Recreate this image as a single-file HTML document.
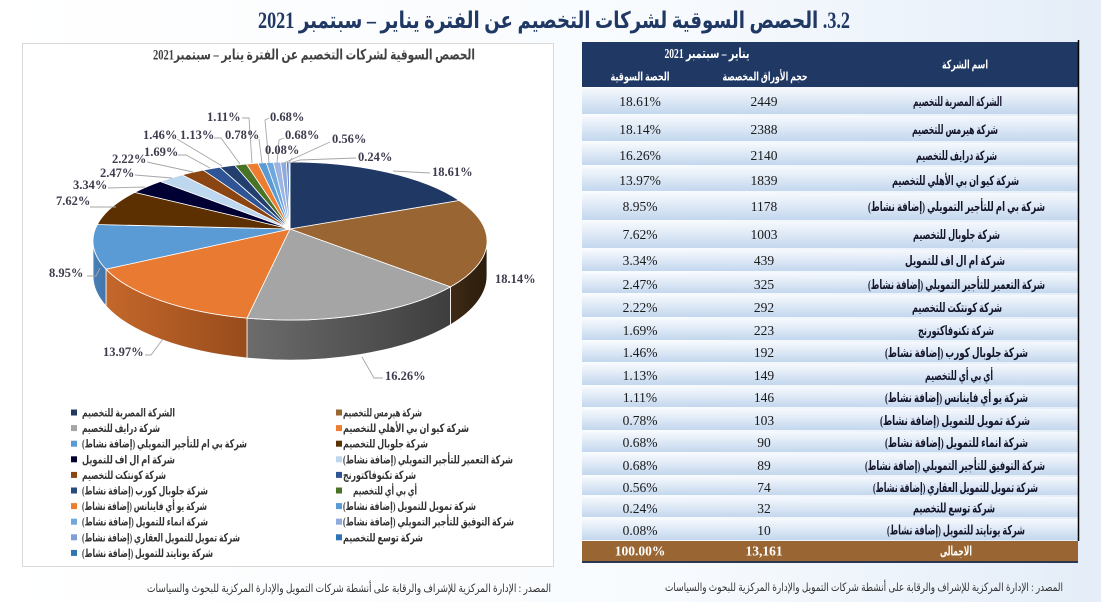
<!DOCTYPE html>
<html><head><meta charset="utf-8"><style>
html,body{margin:0;padding:0;}
body{width:1101px;height:602px;overflow:hidden;}
svg{display:block;}
.ar{font-family:"Liberation Serif","DejaVu Sans",serif;font-weight:bold;}
.lbl{font-family:"Liberation Serif",serif;font-weight:bold;font-size:12.5px;fill:#3c3c4e;}
.num{font-family:"Liberation Serif",serif;font-size:13.5px;fill:#1a1a1a;}
</style></head><body>
<svg width="1101" height="602" viewBox="0 0 1101 602" xmlns="http://www.w3.org/2000/svg">
<defs>
<linearGradient id="bg" x1="0" y1="0" x2="1" y2="0">
<stop offset="0" stop-color="#ffffff"/><stop offset="0.6" stop-color="#f8fbfe"/><stop offset="1" stop-color="#e4edf8"/>
</linearGradient>
<linearGradient id="rowg" x1="0" y1="0" x2="0" y2="1">
<stop offset="0" stop-color="#f6f9fd"/><stop offset="1" stop-color="#c3d7ee"/>
</linearGradient>
<linearGradient id="sBrown" gradientUnits="userSpaceOnUse" x1="450" y1="0" x2="487" y2="0">
<stop offset="0" stop-color="#3e2a16"/><stop offset="1" stop-color="#2c1c0c"/>
</linearGradient>
<linearGradient id="sGray" gradientUnits="userSpaceOnUse" x1="247" y1="0" x2="450" y2="0">
<stop offset="0" stop-color="#6c6c6c"/><stop offset="1" stop-color="#3e3e3e"/>
</linearGradient>
<linearGradient id="sOrange" gradientUnits="userSpaceOnUse" x1="106" y1="0" x2="247" y2="0">
<stop offset="0" stop-color="#c4672b"/><stop offset="1" stop-color="#984c1c"/>
</linearGradient>
<linearGradient id="sBlue" gradientUnits="userSpaceOnUse" x1="93" y1="0" x2="106" y2="0">
<stop offset="0" stop-color="#4a80b8"/><stop offset="1" stop-color="#4275aa"/>
</linearGradient>
</defs>

<rect x="0" y="0" width="1101" height="602" fill="url(#bg)"/>

<!-- Main title -->
<text class="ar" x="554" y="28" font-size="23" fill="#1f3864" text-anchor="middle" direction="rtl" textLength="592" lengthAdjust="spacingAndGlyphs">3.2. الحصص السوقية لشركات التخصيم عن الفترة يناير – سبتمبر 2021</text>

<!-- Chart box -->
<rect x="22.5" y="43.5" width="531" height="523" fill="#ffffff" stroke="#d9d9d9" stroke-width="1"/>
<text class="ar" x="314" y="59.5" font-size="14.5" fill="#404040" text-anchor="middle" direction="rtl" textLength="322" lengthAdjust="spacingAndGlyphs">الحصص السوقية لشركات التخصيم عن الفترة يناير – سبتمبر2021</text>

<!-- Pie side walls -->
<g stroke="#ffffff" stroke-width="0.8">
<path d="M487 241 A197 79 0 0 1 450.4 286.9 L450.4 324.8 A197 84 0 0 0 487 276 Z" fill="url(#sBrown)"/>
<path d="M450.4 286.9 A197 79 0 0 1 247 318.1 L247 358 A197 84 0 0 0 450.4 324.8 Z" fill="url(#sGray)"/>
<path d="M247 318.1 A197 79 0 0 1 106 269.2 L106 306 A197 84 0 0 0 247 358 Z" fill="url(#sOrange)"/>
<path d="M106 269.2 A197 79 0 0 1 93 241 L93 276 A197 84 0 0 0 106 306 Z" fill="url(#sBlue)"/>
</g>

<!-- Pie top faces -->
<g stroke="#ffffff" stroke-width="0.8" stroke-linejoin="round">
<path d="M290 229 L290 162 A197 79 0 0 1 459.2 200.5 Z" fill="#1f3864"/>
<path d="M290 229 L459.2 200.5 A197 79 0 0 1 450.4 286.9 Z" fill="#996633"/>
<path d="M290 229 L450.4 286.9 A197 79 0 0 1 247 318.1 Z" fill="#a5a5a5"/>
<path d="M290 229 L247 318.1 A197 79 0 0 1 106 269.2 Z" fill="#e97a31"/>
<path d="M290 229 L106 269.2 A197 79 0 0 1 97.3 224.5 Z" fill="#5b9bd5"/>
<path d="M290 229 L97.3 224.5 A197 79 0 0 1 134.8 192.4 Z" fill="#5c3000"/>
<path d="M290 229 L134.8 192.4 A197 79 0 0 1 160.4 181.5 Z" fill="#000033"/>
<path d="M290 229 L160.4 181.5 A197 79 0 0 1 182.1 174.9 Z" fill="#bdd7ee"/>
<path d="M290 229 L182.1 174.9 A197 79 0 0 1 203.2 170.1 Z" fill="#8b4513"/>
<path d="M290 229 L203.2 170.1 A197 79 0 0 1 219.8 167.2 Z" fill="#2f5597"/>
<path d="M290 229 L219.8 167.2 A197 79 0 0 1 234.7 165.2 Z" fill="#223f6e"/>
<path d="M290 229 L234.7 165.2 A197 79 0 0 1 246.3 164 Z" fill="#4a7328"/>
<path d="M290 229 L246.3 164 A197 79 0 0 1 257.9 163.1 Z" fill="#ed7d31"/>
<path d="M290 229 L257.9 163.1 A197 79 0 0 1 266.2 162.6 Z" fill="#5b9bd5"/>
<path d="M290 229 L266.2 162.6 A197 79 0 0 1 273.3 162.3 Z" fill="#6fa8dc"/>
<path d="M290 229 L273.3 162.3 A197 79 0 0 1 280.6 162.1 Z" fill="#9db3e0"/>
<path d="M290 229 L280.6 162.1 A197 79 0 0 1 286.5 162 Z" fill="#8ea9db"/>
<path d="M290 229 L286.5 162 A197 79 0 0 1 289 162 Z" fill="#4472c4"/>
<path d="M290 229 L289 162 A197 79 0 0 1 290 162 Z" fill="#2e75b6"/>
</g>

<!-- Leader lines -->
<g stroke="#a6a6a6" stroke-width="0.9" fill="none">
<polyline points="430,173 393,171"/>
<polyline points="383,378 374,378 362,357"/>
<polyline points="145,355 151,355 163,339"/>
<polyline points="87,276 96,276 100,268"/>
<polyline points="90,207 116,207"/>
<polyline points="108,188 145,187"/>
<polyline points="135,175 172,178"/>
<polyline points="147,162 193,172"/>
<polyline points="178,155 186,155 210,168"/>
<polyline points="177,139 222,166"/>
<polyline points="214,138 221,138 240,164"/>
<polyline points="242,118 249,118 252,163"/>
<polyline points="259,139 262,163"/>
<polyline points="269,118 265,120 269,163"/>
<polyline points="284,138 279,140 277,163"/>
<polyline points="330,142 284,163"/>
<polyline points="292,158 289,163"/>
<polyline points="356,158 300,160 290,163"/>
</g>

<!-- Data labels -->
<text class="lbl" x="432" y="176">18.61%</text>
<text class="lbl" x="495" y="283">18.14%</text>
<text class="lbl" x="385" y="380">16.26%</text>
<text class="lbl" x="103" y="356">13.97%</text>
<text class="lbl" x="49" y="277">8.95%</text>
<text class="lbl" x="56" y="205">7.62%</text>
<text class="lbl" x="73" y="189">3.34%</text>
<text class="lbl" x="100" y="177">2.47%</text>
<text class="lbl" x="112" y="163">2.22%</text>
<text class="lbl" x="144" y="156">1.69%</text>
<text class="lbl" x="143" y="139">1.46%</text>
<text class="lbl" x="180" y="139">1.13%</text>
<text class="lbl" x="207" y="121">1.11%</text>
<text class="lbl" x="225" y="139">0.78%</text>
<text class="lbl" x="270" y="121">0.68%</text>
<text class="lbl" x="285" y="139">0.68%</text>
<text class="lbl" x="332" y="143">0.56%</text>
<text class="lbl" x="265" y="154">0.08%</text>
<text class="lbl" x="358" y="161">0.24%</text>

<!-- Legend markers -->
<g>
<rect x="71" y="409.5" width="6" height="6" fill="#1f3864"/>
<rect x="71" y="425.1" width="6" height="6" fill="#a5a5a5"/>
<rect x="71" y="440.7" width="6" height="6" fill="#5b9bd5"/>
<rect x="71" y="456.3" width="6" height="6" fill="#000033"/>
<rect x="71" y="471.9" width="6" height="6" fill="#8b4513"/>
<rect x="71" y="487.5" width="6" height="6" fill="#2a4a80"/>
<rect x="71" y="503.1" width="6" height="6" fill="#ed7d31"/>
<rect x="71" y="518.7" width="6" height="6" fill="#6fa8dc"/>
<rect x="71" y="534.3" width="6" height="6" fill="#7f9fd9"/>
<rect x="71" y="549.9" width="6" height="6" fill="#2e75b6"/>
<rect x="336" y="409.5" width="6" height="6" fill="#996633"/>
<rect x="336" y="425.1" width="6" height="6" fill="#ed7d31"/>
<rect x="336" y="440.7" width="6" height="6" fill="#5c3000"/>
<rect x="336" y="456.3" width="6" height="6" fill="#bdd7ee"/>
<rect x="336" y="471.9" width="6" height="6" fill="#2f5597"/>
<rect x="336" y="487.5" width="6" height="6" fill="#4a7328"/>
<rect x="336" y="503.1" width="6" height="6" fill="#5b9bd5"/>
<rect x="336" y="518.7" width="6" height="6" fill="#8faadc"/>
<rect x="336" y="534.3" width="6" height="6" fill="#2e75b6"/>
</g>

<!-- Legend text -->
<g class="ar" font-size="11.5" fill="#333333" direction="rtl" text-anchor="middle">
<text x="128.5" y="416.5" textLength="93" lengthAdjust="spacingAndGlyphs">الشركة المصرية للتخصيم</text>
<text x="121" y="432.1" textLength="78" lengthAdjust="spacingAndGlyphs">شركة درايف للتخصيم</text>
<text x="164.5" y="447.7" textLength="165" lengthAdjust="spacingAndGlyphs">شركة بي ام  للتأجير التمويلي (إضافة نشاط)</text>
<text x="128.5" y="463.3" textLength="93" lengthAdjust="spacingAndGlyphs">شركة  ام ال اف  للتمويل</text>
<text x="124" y="478.9" textLength="84" lengthAdjust="spacingAndGlyphs">شركة كونتكت للتخصيم</text>
<text x="145" y="494.5" textLength="126" lengthAdjust="spacingAndGlyphs">شركة جلوبال كورب (إضافة نشاط)</text>
<text x="144.5" y="510.1" textLength="125" lengthAdjust="spacingAndGlyphs">شركة يو أي فاينانس (إضافة نشاط)</text>
<text x="145" y="525.7" textLength="126" lengthAdjust="spacingAndGlyphs">شركة انماء للتمويل (إضافة نشاط)</text>
<text x="161" y="541.3" textLength="158" lengthAdjust="spacingAndGlyphs">شركة تمويل للتمويل العقاري (إضافة نشاط)</text>
<text x="147.5" y="556.9" textLength="131" lengthAdjust="spacingAndGlyphs">شركة يونايتد للتمويل (إضافة نشاط)</text>
<text x="382.5" y="416.5" textLength="79" lengthAdjust="spacingAndGlyphs">شركة هيرمس للتخصيم</text>
<text x="406" y="432.1" textLength="126" lengthAdjust="spacingAndGlyphs">شركة كيو  ان بي الأهلي للتخصيم</text>
<text x="385.5" y="447.7" textLength="85" lengthAdjust="spacingAndGlyphs">شركة جلوبال للتخصيم</text>
<text x="428" y="463.3" textLength="170" lengthAdjust="spacingAndGlyphs">شركة التعمير للتأجير التمويلي (إضافة نشاط)</text>
<text x="379.5" y="478.9" textLength="73" lengthAdjust="spacingAndGlyphs">شركة تكنوفاكتورنج</text>
<text x="385" y="494.5" textLength="64" lengthAdjust="spacingAndGlyphs">أي بي أي للتخصيم</text>
<text x="409.5" y="510.1" textLength="133" lengthAdjust="spacingAndGlyphs">شركة تمويل للتمويل (إضافة نشاط)</text>
<text x="428.5" y="525.7" textLength="171" lengthAdjust="spacingAndGlyphs">شركة التوفيق للتأجير التمويلي (إضافة نشاط)</text>
<text x="383" y="541.3" textLength="80" lengthAdjust="spacingAndGlyphs">شركة توسع للتخصيم</text>
</g>

<!-- Table header -->
<rect x="582" y="42" width="496" height="45" fill="#203864"/>
<g class="ar" fill="#ffffff" direction="rtl" text-anchor="middle">
<text x="707" y="58" font-size="14" textLength="85" lengthAdjust="spacingAndGlyphs">يناير – سبتمبر 2021</text>
<text x="640" y="80.5" font-size="12" textLength="59" lengthAdjust="spacingAndGlyphs">الحصة السوقية</text>
<text x="765" y="80.5" font-size="12" textLength="85" lengthAdjust="spacingAndGlyphs">حجم الأوراق المخصصة</text>
<text x="965" y="68.5" font-size="12" textLength="46" lengthAdjust="spacingAndGlyphs">اسم الشركة</text>
</g>

<!-- Table rows -->
<g fill="url(#rowg)">
<rect x="582" y="88" width="496" height="26"/>
<rect x="582" y="116" width="496" height="25"/>
<rect x="582" y="143" width="496" height="22"/>
<rect x="582" y="167" width="496" height="24"/>
<rect x="582" y="193" width="496" height="27"/>
<rect x="582" y="222" width="496" height="26"/>
<rect x="582" y="250" width="496" height="21"/>
<rect x="582" y="273" width="496" height="20"/>
<rect x="582" y="295" width="496" height="22"/>
<rect x="582" y="319" width="496" height="21"/>
<rect x="582" y="342" width="496" height="20"/>
<rect x="582" y="364" width="496" height="21"/>
<rect x="582" y="387" width="496" height="20"/>
<rect x="582" y="409" width="496" height="21"/>
<rect x="582" y="432" width="496" height="20"/>
<rect x="582" y="454" width="496" height="21"/>
<rect x="582" y="477" width="496" height="18"/>
<rect x="582" y="497" width="496" height="20"/>
<rect x="582" y="519" width="496" height="21"/>
</g>
<line x1="1078.5" y1="40" x2="1078.5" y2="541" stroke="#000000" stroke-width="1.5"/>

<!-- Total row -->
<rect x="582" y="541" width="496" height="20" fill="#996633"/>
<rect x="582" y="561" width="496" height="2" fill="#2b3650"/>

<!-- Table names -->
<g class="ar" font-size="13" fill="#14142a" direction="rtl" text-anchor="middle">
<text x="957.5" y="106" textLength="89" lengthAdjust="spacingAndGlyphs">الشركة المصرية للتخصيم</text>
<text x="955" y="134" textLength="86" lengthAdjust="spacingAndGlyphs">شركة هيرمس للتخصيم</text>
<text x="956.5" y="160" textLength="81" lengthAdjust="spacingAndGlyphs">شركة درايف للتخصيم</text>
<text x="955.5" y="185" textLength="127" lengthAdjust="spacingAndGlyphs">شركة كيو ان بي الأهلي للتخصيم</text>
<text x="956.5" y="211" textLength="177" lengthAdjust="spacingAndGlyphs">شركة بي ام  للتأجير التمويلي (إضافة نشاط)</text>
<text x="956.5" y="239" textLength="87" lengthAdjust="spacingAndGlyphs">شركة جلوبال للتخصيم</text>
<text x="955" y="265" textLength="100" lengthAdjust="spacingAndGlyphs">شركة  ام ال اف  للتمويل</text>
<text x="956.5" y="289" textLength="177" lengthAdjust="spacingAndGlyphs">شركة التعمير للتأجير التمويلي (إضافة نشاط)</text>
<text x="957" y="312" textLength="90" lengthAdjust="spacingAndGlyphs">شركة كونتكت للتخصيم</text>
<text x="956" y="335" textLength="76" lengthAdjust="spacingAndGlyphs">شركة تكنوفاكتورنج</text>
<text x="956.5" y="357" textLength="143" lengthAdjust="spacingAndGlyphs">شركة جلوبال كورب (إضافة نشاط)</text>
<text x="959" y="380" textLength="68" lengthAdjust="spacingAndGlyphs">أي بي أي للتخصيم</text>
<text x="956.5" y="402" textLength="143" lengthAdjust="spacingAndGlyphs">شركة يو أي فاينانس (إضافة نشاط)</text>
<text x="955" y="425" textLength="150" lengthAdjust="spacingAndGlyphs">شركة تمويل للتمويل (إضافة نشاط)</text>
<text x="956.5" y="447" textLength="143" lengthAdjust="spacingAndGlyphs">شركة انماء للتمويل (إضافة نشاط)</text>
<text x="955" y="470" textLength="180" lengthAdjust="spacingAndGlyphs">شركة التوفيق للتأجير التمويلي (إضافة نشاط)</text>
<text x="955.5" y="492" textLength="165" lengthAdjust="spacingAndGlyphs">شركة تمويل للتمويل العقاري  (إضافة نشاط)</text>
<text x="954" y="512.5" textLength="82" lengthAdjust="spacingAndGlyphs">شركة توسع للتخصيم</text>
<text x="956" y="534.5" textLength="138" lengthAdjust="spacingAndGlyphs">شركة يونايتد للتمويل (إضافة نشاط)</text>
</g>

<!-- Table numbers -->
<g class="num" text-anchor="middle">
<text x="764" y="106">2449</text><text x="640" y="106">18.61%</text>
<text x="764" y="134">2388</text><text x="640" y="134">18.14%</text>
<text x="764" y="160">2140</text><text x="640" y="160">16.26%</text>
<text x="764" y="185">1839</text><text x="640" y="185">13.97%</text>
<text x="764" y="211">1178</text><text x="640" y="211">8.95%</text>
<text x="764" y="239">1003</text><text x="640" y="239">7.62%</text>
<text x="764" y="265">439</text><text x="640" y="265">3.34%</text>
<text x="764" y="289">325</text><text x="640" y="289">2.47%</text>
<text x="764" y="312">292</text><text x="640" y="312">2.22%</text>
<text x="764" y="335">223</text><text x="640" y="335">1.69%</text>
<text x="764" y="357">192</text><text x="640" y="357">1.46%</text>
<text x="764" y="380">149</text><text x="640" y="380">1.13%</text>
<text x="764" y="402">146</text><text x="640" y="402">1.11%</text>
<text x="764" y="425">103</text><text x="640" y="425">0.78%</text>
<text x="764" y="447">90</text><text x="640" y="447">0.68%</text>
<text x="764" y="470">89</text><text x="640" y="470">0.68%</text>
<text x="764" y="492">74</text><text x="640" y="492">0.56%</text>
<text x="764" y="513">32</text><text x="640" y="513">0.24%</text>
<text x="764" y="535">10</text><text x="640" y="535">0.08%</text>
</g>
<g font-family="Liberation Serif, serif" font-weight="bold" font-size="13.5" fill="#ffffff" text-anchor="middle">
<text x="764" y="555.5">13,161</text>
<text x="640" y="555.5">100.00%</text>
</g>
<text class="ar" x="956" y="555.5" font-size="13" fill="#ffffff" text-anchor="middle" direction="rtl" textLength="32" lengthAdjust="spacingAndGlyphs">الاجمالى</text>

<!-- Sources -->
<g class="ar" font-size="11.5" fill="#333333" direction="rtl" text-anchor="middle">
<text x="864" y="591" textLength="398" lengthAdjust="spacingAndGlyphs" font-weight="normal">المصدر : الإدارة المركزية للإشراف والرقابة على أنشطة شركات التمويل والإدارة المركزية للبحوث والسياسات</text>
<text x="349" y="592" textLength="404" lengthAdjust="spacingAndGlyphs" font-weight="normal">المصدر : الإدارة المركزية للإشراف والرقابة على أنشطة شركات التمويل والإدارة المركزية للبحوث والسياسات</text>
</g>
</svg>
</body></html>
